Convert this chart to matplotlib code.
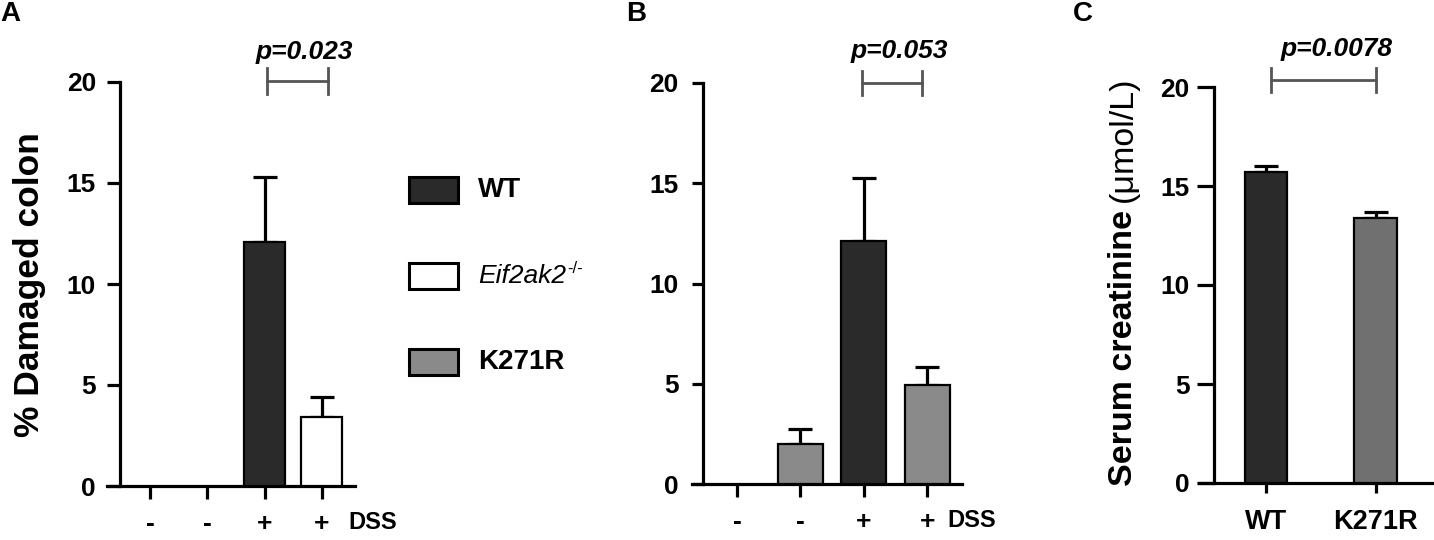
import matplotlib
matplotlib.use('Agg')
import matplotlib.pyplot as plt
from matplotlib.patches import Rectangle
import numpy as np

plt.rcParams['font.family'] = ['Liberation Sans', 'DejaVu Sans']
plt.rcParams['font.weight'] = 'bold'

# panel A: % damaged colon
a_dss = ['-', '-', '+', '+']
a_values = [0, 0, 12.1, 3.4]
a_errors = [0, 0, 3.2, 1.0]
a_groups = ['WT', 'WT', 'WT', 'Eif2ak2']
a_pval = 'p=0.023'

# panel B: % damaged colon
b_dss = ['-', '-', '+', '+']
b_values = [0, 2.0, 12.1, 4.95]
b_errors = [0, 0.72, 3.15, 0.9]
b_groups = ['WT', 'K271R', 'WT', 'K271R']
b_pval = 'p=0.053'

# panel C: serum creatinine
c_labels = ['WT', 'K271R']
c_values = [15.7, 13.37]
c_errors = [0.33, 0.3]
c_pval = 'p=0.0078'

legend_groups = ['WT', 'Eif2ak2', 'K271R']

fills = {'WT': '#2a2a2a', 'Eif2ak2': 'white', 'K271R': '#8a8a8a'}
c_fills = {'WT': '#2a2a2a', 'K271R': '#707070'}

W, H = 1434, 540
fig = plt.figure(figsize=(W / 100, H / 100), dpi=100)


def px_axes(x0, x1, y0, y20):
    return fig.add_axes([x0 / W, (H - y0) / H, (x1 - x0) / W, (y0 - y20) / H])


def style_axes(ax, spine_x, xlim, ytick_len, ytick_pad, xtick_len, xtick_pad, xfont):
    ax.set_xlim(*xlim)
    ax.set_ylim(0, 20)
    ax.set_yticks([0, 5, 10, 15, 20])
    for s in ['top', 'right']:
        ax.spines[s].set_visible(False)
    ax.spines['left'].set_position(('data', spine_x))
    for s in ['left', 'bottom']:
        ax.spines[s].set_linewidth(2.3)
    ax.tick_params(axis='y', length=ytick_len, width=2.3, pad=ytick_pad, labelsize=19)
    ax.tick_params(axis='x', length=xtick_len, width=2.3, pad=xtick_pad, labelsize=xfont)
    for lab in ax.get_xticklabels() + ax.get_yticklabels():
        lab.set_fontweight('bold')


def draw_bars(ax, values, errors, colors, width):
    x = np.arange(len(values))
    v = np.array(values, dtype=float)
    e = np.array(errors, dtype=float)
    show = v > 0
    ax.bar(x[show], v[show], width=width, color=np.array(colors)[show],
           edgecolor='black', linewidth=1.6, zorder=3)
    ax.errorbar(x[show], v[show], yerr=[np.zeros(show.sum()), e[show]], fmt='none',
                ecolor='black', elinewidth=2.3, capsize=8.5, capthick=2.3, zorder=2)


def bracket(ax, x0, x1, y, ty, text, half=0.62):
    kw = dict(color='#555555', lw=2, clip_on=False, zorder=4)
    ax.plot([x0, x1], [y, y], **kw)
    ax.plot([x0, x0], [y - half, y + half], **kw)
    ax.plot([x1, x1], [y - half, y + half], **kw)
    ax.text((x0 + x1) / 2 + 0.12, ty, text, ha='center', va='center',
            fontsize=19, fontstyle='italic', fontweight='bold', clip_on=False)


# ---- A
axA = px_axes(107, 355, 486, 82)
draw_bars(axA, a_values, a_errors, [fills[g] for g in a_groups], 0.72)
axA.set_xticks(range(len(a_dss)))
axA.set_xticklabels(a_dss)
style_axes(axA, -0.52, (-0.75, 3.58), 9.4, 8, 9, 10, 19)
axA.annotate('DSS', xy=(3.46, 0), xytext=(0, -26), textcoords='offset points',
             ha='left', va='center', fontsize=17, fontweight='bold')
bracket(axA, 2.05, 3.1, 20.05, 21.5, a_pval)
fig.text(30 / W, 1 - 285 / H, '% Damaged colon', rotation=90, ha='center', va='center',
         fontsize=25.5, fontweight='bold')

# legend for A
for i, g in enumerate(legend_groups):
    cy = 190 + 86 * i
    fig.add_artist(Rectangle((409 / W, 1 - (cy + 13) / H), 49 / W, 26 / H,
                             transform=fig.transFigure, facecolor=fills[g],
                             edgecolor='black', linewidth=2.2))
    if g == 'Eif2ak2':
        t = fig.text(478 / W, 1 - cy / H, g, ha='left', va='center', fontsize=19,
                     fontstyle='italic', fontweight='normal')
        axA.annotate('-/-', xy=(1, 1), xycoords=t, xytext=(1, -3),
                     textcoords='offset points', ha='left', va='center',
                     fontsize=12, fontweight='normal', annotation_clip=False)
    else:
        fig.text(478 / W, 1 - cy / H, g, ha='left', va='center', fontsize=20,
                 fontweight='bold')

# ---- B
axB = px_axes(692, 962, 484, 83)
draw_bars(axB, b_values, b_errors, [fills[g] for g in b_groups], 0.71)
axB.set_xticks(range(len(b_dss)))
axB.set_xticklabels(b_dss)
style_axes(axB, -0.54, (-0.71, 3.55), 8, 9.5, 9, 10, 19)
axB.annotate('DSS', xy=(3.32, 0), xytext=(0, -26.5), textcoords='offset points',
             ha='left', va='center', fontsize=17, fontweight='bold')
bracket(axB, 1.97, 2.92, 20.0, 21.6, b_pval)

# ---- C
axC = px_axes(1199, 1434, 483, 87)
draw_bars(axC, c_values, c_errors, [c_fills[g] for g in c_labels], 0.39)
axC.set_xticks(range(len(c_labels)))
axC.set_xticklabels(c_labels)
style_axes(axC, -0.47, (-0.61, 1.53), 12, 6, 7, 12, 19.5)
bracket(axC, 0.05, 1.0, 20.35, 21.9, c_pval)
tC = fig.text(1123 / W, 1 - 486 / H, 'Serum creatinine', rotation=90, ha='center',
              va='bottom', fontsize=24.5, fontweight='bold')
axC.annotate('(\u03bcmol/L)', xy=(0.5, 1), xycoords=tC, xytext=(0, 6),
             textcoords='offset points', rotation=90, ha='center', va='bottom',
             fontsize=24.5, fontweight='normal', annotation_clip=False)

# panel letters
for x, lab in [(0, 'A'), (626, 'B'), (1073, 'C')]:
    fig.text(x / W, 1 - 14 / H, lab, ha='left', va='center', fontsize=20,
             fontweight='bold')

fig.savefig('out.png', dpi=100)
